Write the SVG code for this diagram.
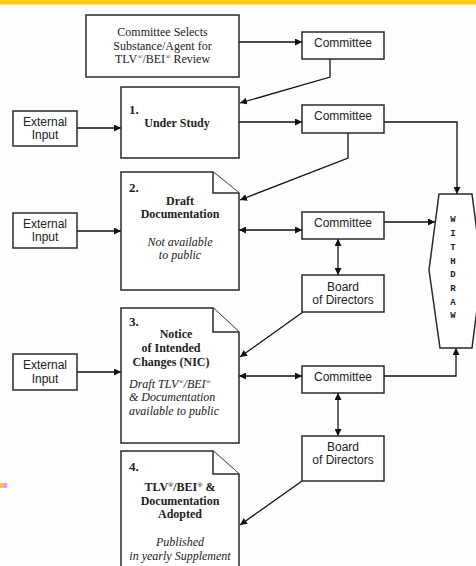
<svg xmlns="http://www.w3.org/2000/svg" width="476" height="566" viewBox="0 0 476 566">
<defs>
<marker id="ah" viewBox="0 0 10 10" refX="10" refY="5" markerWidth="7" markerHeight="7" markerUnits="userSpaceOnUse" orient="auto-start-reverse">
<path d="M0,0 L10,5 L0,10 z" fill="#111"/>
</marker>
<style>
.box{fill:#fff;stroke:#2a2a2a;stroke-width:1.5}
.ln{fill:none;stroke:#111;stroke-width:1.3}
.sans{font-family:"Liberation Sans",Arial,sans-serif;font-size:12px;fill:#222;text-anchor:middle}
.ser{font-family:"Liberation Serif","Times New Roman",serif;font-size:12px;fill:#222;text-anchor:middle}
.st{text-anchor:start}
.b{font-weight:bold}
.i{font-style:italic}
.num{font-family:"Liberation Serif","Times New Roman",serif;font-size:13px;font-weight:bold;fill:#222}
.mono{font-family:"Liberation Mono","Courier New",monospace;font-size:9px;font-weight:bold;fill:#222;text-anchor:middle}
.sup{font-size:7px}
</style>
</defs>
<rect x="0" y="0" width="476" height="566" fill="#fefefe"/>
<rect x="0" y="0" width="476" height="4.7" fill="#ffc81e"/>
<rect x="0" y="483" width="2.7" height="5" fill="#ffc81e"/>
<rect x="2.7" y="483" width="4.6" height="5" fill="#f59ae8"/>

<g id="connectors">
<path class="ln" d="M239,42 H302" marker-end="url(#ah)"/>
<path class="ln" d="M330,59 V77 L240,103" marker-end="url(#ah)"/>
<path class="ln" d="M77,128 H121" marker-end="url(#ah)"/>
<path class="ln" d="M239,122 H302" marker-end="url(#ah)"/>
<path class="ln" d="M384,122 H457 V194" marker-end="url(#ah)"/>
<path class="ln" d="M348,133 V158 L240,200" marker-end="url(#ah)"/>
<path class="ln" d="M77,231 H121" marker-end="url(#ah)"/>
<path class="ln" d="M239,230 H302" marker-start="url(#ah)" marker-end="url(#ah)"/>
<path class="ln" d="M384,222 H435" marker-end="url(#ah)"/>
<path class="ln" d="M338,239 V275" marker-start="url(#ah)" marker-end="url(#ah)"/>
<path class="ln" d="M303,312 L240,357" marker-end="url(#ah)"/>
<path class="ln" d="M77,372 H121" marker-end="url(#ah)"/>
<path class="ln" d="M239,376 H302" marker-start="url(#ah)" marker-end="url(#ah)"/>
<path class="ln" d="M384,376 H456 V348" marker-end="url(#ah)"/>
<path class="ln" d="M338,393 V436" marker-start="url(#ah)" marker-end="url(#ah)"/>
<path class="ln" d="M302,481 L240,525" marker-end="url(#ah)"/>
</g>

<g id="select">
<rect class="box" x="86" y="15" width="153" height="62"/>
<text class="ser" x="162.5" y="36">Committee Selects</text>
<text class="ser" x="162.5" y="49.5">Substance/Agent for</text>
<text class="ser" x="162.5" y="63">TLV<tspan class="sup" dy="-4">®</tspan><tspan dy="4">/BEI</tspan><tspan class="sup" dy="-4">®</tspan><tspan dy="4"> Review</tspan></text>
</g>

<g id="committee1">
<rect class="box" x="302" y="32" width="82" height="27"/>
<text class="sans" x="343" y="46.5">Committee</text>
</g>

<g id="ext1">
<rect class="box" x="13" y="111" width="64" height="35"/>
<text class="sans" x="45" y="126">External</text>
<text class="sans" x="45" y="139">Input</text>
</g>

<g id="step1">
<rect class="box" x="121" y="87" width="118" height="71"/>
<text class="num" x="129" y="114">1.</text>
<text class="ser b" x="177" y="127">Under Study</text>
</g>

<g id="committee2">
<rect class="box" x="302" y="105" width="82" height="28"/>
<text class="sans" x="343" y="119.5">Committee</text>
</g>

<g id="ext2">
<rect class="box" x="13" y="213" width="64" height="35"/>
<text class="sans" x="45" y="228">External</text>
<text class="sans" x="45" y="241">Input</text>
</g>

<g id="step2">
<path class="box" d="M121,172 H213 L239,193 V290 H121 Z"/>
<path class="box" d="M213,172 V193 H239"/>
<text class="num" x="129" y="192">2.</text>
<text class="ser b" x="180" y="205">Draft</text>
<text class="ser b" x="180" y="218">Documentation</text>
<text class="ser i" x="180" y="245.5">Not available</text>
<text class="ser i" x="180" y="259">to public</text>
</g>

<g id="committee3">
<rect class="box" x="302" y="212" width="82" height="27"/>
<text class="sans" x="343" y="227">Committee</text>
</g>

<g id="board1">
<rect class="box" x="302" y="275" width="82" height="37"/>
<text class="sans" x="343" y="291">Board</text>
<text class="sans" x="343" y="304">of Directors</text>
</g>

<g id="withdraw">
<path class="box" d="M439,194 H472 L482,270 L472,348 H440 L429,270 Z"/>
<text class="mono" x="453" y="222">W</text>
<text class="mono" x="453" y="236">I</text>
<text class="mono" x="453" y="250">T</text>
<text class="mono" x="453" y="264">H</text>
<text class="mono" x="453" y="277">D</text>
<text class="mono" x="453" y="291">R</text>
<text class="mono" x="453" y="305">A</text>
<text class="mono" x="453" y="318">W</text>
</g>

<g id="ext3">
<rect class="box" x="13" y="354" width="64" height="36"/>
<text class="sans" x="45" y="369">External</text>
<text class="sans" x="45" y="382.5">Input</text>
</g>

<g id="step3">
<path class="box" d="M121,308 H213 L239,332 V443 H121 Z"/>
<path class="box" d="M213,308 V332 H239"/>
<text class="num" x="129" y="326">3.</text>
<text class="ser b" x="176" y="337.5">Notice</text>
<text class="ser b" x="171" y="352">of Intended</text>
<text class="ser b" x="171" y="365.5">Changes (NIC)</text>
<text class="ser i st" x="129" y="388">Draft TLV<tspan class="sup" dy="-4">®</tspan><tspan dy="4">/BEI</tspan><tspan class="sup" dy="-4">®</tspan></text>
<text class="ser i st" x="129" y="401">&amp; Documentation</text>
<text class="ser i st" x="129" y="415">available to public</text>
</g>

<g id="committee4">
<rect class="box" x="302" y="366" width="82" height="27"/>
<text class="sans" x="343" y="381">Committee</text>
</g>

<g id="board2">
<rect class="box" x="302" y="436" width="82" height="45"/>
<text class="sans" x="343" y="451">Board</text>
<text class="sans" x="343" y="464">of Directors</text>
</g>

<g id="step4">
<path class="box" d="M121,451 H213 L239,474 V580 H121 Z"/>
<path class="box" d="M213,451 V474 H239"/>
<text class="num" x="129" y="471">4.</text>
<text class="ser b" x="180" y="491">TLV<tspan class="sup" dy="-4">®</tspan><tspan dy="4">/BEI</tspan><tspan class="sup" dy="-4">®</tspan><tspan dy="4"> &amp;</tspan></text>
<text class="ser b" x="180" y="505">Documentation</text>
<text class="ser b" x="180" y="518">Adopted</text>
<text class="ser i" x="180" y="546">Published</text>
<text class="ser i" x="180" y="560">in yearly Supplement</text>
</g>
</svg>
